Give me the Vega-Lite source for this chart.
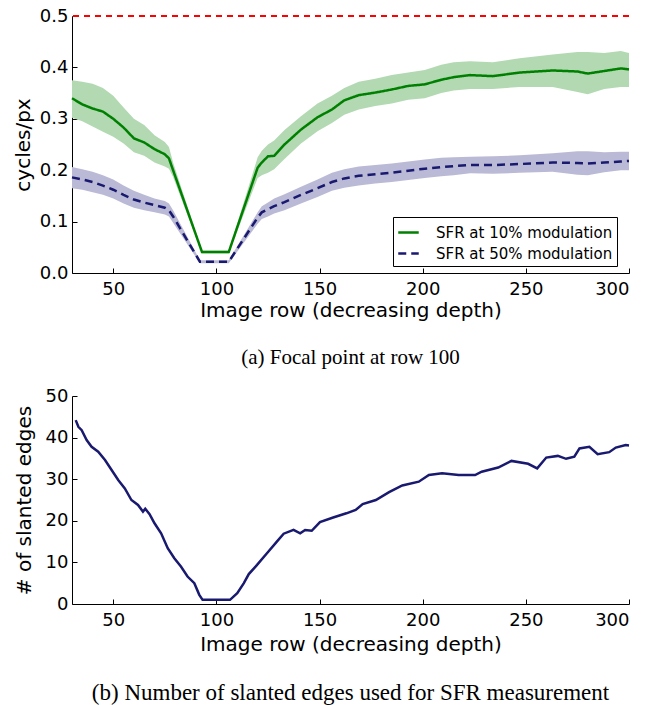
{
  "$schema": "https://vega.github.io/schema/vega-lite/v6.json",
  "background": "white",
  "padding": {"left": 13, "top": 7, "right": 10, "bottom": 0},
  "spacing": 19,
  "datasets": {
    "sfr": [
      {"row":30,"series":"SFR at 10% modulation","v":0.340,"lo":0.302,"hi":0.375},
      {"row":35,"series":"SFR at 10% modulation","v":0.328,"lo":0.295,"hi":0.372},
      {"row":40,"series":"SFR at 10% modulation","v":0.320,"lo":0.285,"hi":0.368},
      {"row":45,"series":"SFR at 10% modulation","v":0.314,"lo":0.275,"hi":0.360},
      {"row":50,"series":"SFR at 10% modulation","v":0.300,"lo":0.265,"hi":0.345},
      {"row":55,"series":"SFR at 10% modulation","v":0.283,"lo":0.252,"hi":0.322},
      {"row":60,"series":"SFR at 10% modulation","v":0.262,"lo":0.235,"hi":0.300},
      {"row":65,"series":"SFR at 10% modulation","v":0.254,"lo":0.228,"hi":0.288},
      {"row":70,"series":"SFR at 10% modulation","v":0.241,"lo":0.215,"hi":0.268},
      {"row":75,"series":"SFR at 10% modulation","v":0.231,"lo":0.207,"hi":0.255},
      {"row":77,"series":"SFR at 10% modulation","v":0.223,"lo":0.203,"hi":0.245},
      {"row":79,"series":"SFR at 10% modulation","v":0.200,"lo":0.187,"hi":0.215},
      {"row":93,"series":"SFR at 10% modulation","v":0.041,"lo":0.038,"hi":0.044},
      {"row":106,"series":"SFR at 10% modulation","v":0.041,"lo":0.038,"hi":0.044},
      {"row":120,"series":"SFR at 10% modulation","v":0.205,"lo":0.185,"hi":0.225},
      {"row":122,"series":"SFR at 10% modulation","v":0.215,"lo":0.190,"hi":0.238},
      {"row":125,"series":"SFR at 10% modulation","v":0.227,"lo":0.195,"hi":0.250},
      {"row":128,"series":"SFR at 10% modulation","v":0.228,"lo":0.202,"hi":0.258},
      {"row":133,"series":"SFR at 10% modulation","v":0.250,"lo":0.222,"hi":0.278},
      {"row":141,"series":"SFR at 10% modulation","v":0.279,"lo":0.252,"hi":0.305},
      {"row":149,"series":"SFR at 10% modulation","v":0.303,"lo":0.276,"hi":0.330},
      {"row":156,"series":"SFR at 10% modulation","v":0.318,"lo":0.292,"hi":0.345},
      {"row":162,"series":"SFR at 10% modulation","v":0.336,"lo":0.308,"hi":0.360},
      {"row":169,"series":"SFR at 10% modulation","v":0.346,"lo":0.318,"hi":0.372},
      {"row":177,"series":"SFR at 10% modulation","v":0.351,"lo":0.325,"hi":0.378},
      {"row":185,"series":"SFR at 10% modulation","v":0.357,"lo":0.330,"hi":0.385},
      {"row":193,"series":"SFR at 10% modulation","v":0.364,"lo":0.337,"hi":0.390},
      {"row":201,"series":"SFR at 10% modulation","v":0.367,"lo":0.340,"hi":0.395},
      {"row":209,"series":"SFR at 10% modulation","v":0.376,"lo":0.350,"hi":0.405},
      {"row":215,"series":"SFR at 10% modulation","v":0.381,"lo":0.355,"hi":0.410},
      {"row":223,"series":"SFR at 10% modulation","v":0.385,"lo":0.358,"hi":0.412},
      {"row":234,"series":"SFR at 10% modulation","v":0.383,"lo":0.358,"hi":0.410},
      {"row":247,"series":"SFR at 10% modulation","v":0.390,"lo":0.362,"hi":0.418},
      {"row":263,"series":"SFR at 10% modulation","v":0.394,"lo":0.362,"hi":0.425},
      {"row":275,"series":"SFR at 10% modulation","v":0.392,"lo":0.352,"hi":0.430},
      {"row":280,"series":"SFR at 10% modulation","v":0.388,"lo":0.348,"hi":0.430},
      {"row":288,"series":"SFR at 10% modulation","v":0.393,"lo":0.358,"hi":0.428},
      {"row":296,"series":"SFR at 10% modulation","v":0.398,"lo":0.362,"hi":0.432},
      {"row":300,"series":"SFR at 10% modulation","v":0.396,"lo":0.362,"hi":0.428},
      {"row":30,"series":"SFR at 50% modulation","v":0.186,"lo":0.165,"hi":0.206},
      {"row":35,"series":"SFR at 50% modulation","v":0.182,"lo":0.162,"hi":0.202},
      {"row":40,"series":"SFR at 50% modulation","v":0.177,"lo":0.157,"hi":0.197},
      {"row":45,"series":"SFR at 50% modulation","v":0.170,"lo":0.152,"hi":0.190},
      {"row":50,"series":"SFR at 50% modulation","v":0.162,"lo":0.145,"hi":0.182},
      {"row":55,"series":"SFR at 50% modulation","v":0.152,"lo":0.135,"hi":0.170},
      {"row":60,"series":"SFR at 50% modulation","v":0.143,"lo":0.127,"hi":0.160},
      {"row":65,"series":"SFR at 50% modulation","v":0.137,"lo":0.122,"hi":0.152},
      {"row":70,"series":"SFR at 50% modulation","v":0.132,"lo":0.118,"hi":0.145},
      {"row":75,"series":"SFR at 50% modulation","v":0.127,"lo":0.114,"hi":0.140},
      {"row":77,"series":"SFR at 50% modulation","v":0.122,"lo":0.110,"hi":0.135},
      {"row":79,"series":"SFR at 50% modulation","v":0.110,"lo":0.098,"hi":0.122},
      {"row":92,"series":"SFR at 50% modulation","v":0.022,"lo":0.019,"hi":0.025},
      {"row":106,"series":"SFR at 50% modulation","v":0.022,"lo":0.019,"hi":0.025},
      {"row":120,"series":"SFR at 50% modulation","v":0.108,"lo":0.096,"hi":0.118},
      {"row":122,"series":"SFR at 50% modulation","v":0.118,"lo":0.105,"hi":0.130},
      {"row":125,"series":"SFR at 50% modulation","v":0.124,"lo":0.110,"hi":0.137},
      {"row":128,"series":"SFR at 50% modulation","v":0.130,"lo":0.116,"hi":0.145},
      {"row":133,"series":"SFR at 50% modulation","v":0.138,"lo":0.122,"hi":0.153},
      {"row":141,"series":"SFR at 50% modulation","v":0.152,"lo":0.135,"hi":0.168},
      {"row":149,"series":"SFR at 50% modulation","v":0.165,"lo":0.148,"hi":0.182},
      {"row":156,"series":"SFR at 50% modulation","v":0.177,"lo":0.160,"hi":0.195},
      {"row":162,"series":"SFR at 50% modulation","v":0.184,"lo":0.166,"hi":0.202},
      {"row":169,"series":"SFR at 50% modulation","v":0.189,"lo":0.170,"hi":0.207},
      {"row":177,"series":"SFR at 50% modulation","v":0.192,"lo":0.174,"hi":0.210},
      {"row":185,"series":"SFR at 50% modulation","v":0.195,"lo":0.177,"hi":0.213},
      {"row":193,"series":"SFR at 50% modulation","v":0.199,"lo":0.181,"hi":0.217},
      {"row":201,"series":"SFR at 50% modulation","v":0.203,"lo":0.185,"hi":0.221},
      {"row":209,"series":"SFR at 50% modulation","v":0.206,"lo":0.188,"hi":0.224},
      {"row":215,"series":"SFR at 50% modulation","v":0.208,"lo":0.190,"hi":0.225},
      {"row":223,"series":"SFR at 50% modulation","v":0.210,"lo":0.194,"hi":0.226},
      {"row":234,"series":"SFR at 50% modulation","v":0.210,"lo":0.193,"hi":0.227},
      {"row":247,"series":"SFR at 50% modulation","v":0.212,"lo":0.195,"hi":0.229},
      {"row":263,"series":"SFR at 50% modulation","v":0.215,"lo":0.197,"hi":0.233},
      {"row":275,"series":"SFR at 50% modulation","v":0.214,"lo":0.191,"hi":0.237},
      {"row":280,"series":"SFR at 50% modulation","v":0.213,"lo":0.190,"hi":0.237},
      {"row":288,"series":"SFR at 50% modulation","v":0.215,"lo":0.196,"hi":0.235},
      {"row":296,"series":"SFR at 50% modulation","v":0.217,"lo":0.200,"hi":0.236},
      {"row":300,"series":"SFR at 50% modulation","v":0.218,"lo":0.200,"hi":0.236}
    ],
    "edges": [
      {"row":31.8,"n":44.2},{"row":33.1,"n":42.6},{"row":34.7,"n":41.8},{"row":37.1,"n":39.4},
      {"row":39.5,"n":37.8},{"row":42.7,"n":36.6},{"row":46,"n":34.6},{"row":49.2,"n":32.2},
      {"row":52.4,"n":29.8},{"row":55.6,"n":27.8},{"row":58.8,"n":25.0},{"row":62,"n":23.8},
      {"row":64.4,"n":22.2},{"row":65.5,"n":22.9},{"row":67.6,"n":21.6},{"row":70,"n":19.4},
      {"row":73.2,"n":17.0},{"row":76.4,"n":13.4},{"row":79.6,"n":11.0},{"row":82.8,"n":9.0},
      {"row":86,"n":6.6},{"row":89.3,"n":5.0},{"row":91.7,"n":2.2},{"row":93.3,"n":1},
      {"row":106.6,"n":1},{"row":110.1,"n":2.6},{"row":113.3,"n":5.0},{"row":115.7,"n":7.2},
      {"row":119.7,"n":9.4},{"row":124.5,"n":12.2},{"row":129.3,"n":15.0},{"row":132.6,"n":16.9},
      {"row":137.4,"n":17.8},{"row":140.6,"n":17.0},{"row":143,"n":17.8},{"row":146.2,"n":17.6},
      {"row":150.2,"n":19.7},{"row":156.6,"n":20.8},{"row":163,"n":21.8},{"row":167.5,"n":22.6},
      {"row":170.9,"n":24.0},{"row":177.3,"n":25.0},{"row":183.7,"n":26.9},{"row":190.1,"n":28.5},
      {"row":198.1,"n":29.4},{"row":203,"n":31.0},{"row":209.4,"n":31.4},{"row":217.4,"n":31.0},
      {"row":225.4,"n":31.0},{"row":228.6,"n":31.8},{"row":236.6,"n":32.8},{"row":243,"n":34.4},
      {"row":251.1,"n":33.7},{"row":255.5,"n":32.6},{"row":259.9,"n":35.2},{"row":265.5,"n":35.6},
      {"row":269.5,"n":34.9},{"row":273.5,"n":35.4},{"row":276,"n":37.4},{"row":280.8,"n":37.8},
      {"row":284.8,"n":36.0},{"row":290.4,"n":36.5},{"row":293.6,"n":37.6},{"row":298.4,"n":38.2},
      {"row":300,"n":38.1}
    ],
    "limit": [{"nyquist": 0.5}]
  },
  "vconcat": [
    {
      "width": 557,
      "height": 257,
      "title": {"text": "(a) Focal point at row 100", "orient": "bottom", "offset": 27, "fontSize": 21},
      "layer": [
        {
          "data": {"name": "sfr"},
          "transform": [{"filter": "datum.series === 'SFR at 10% modulation'"}],
          "mark": {"type": "area", "color": "#b2d9b2", "opacity": 1},
          "encoding": {
            "x": {"field": "row", "type": "quantitative", "scale": {"domain": [30, 300], "nice": false},
                  "axis": {"values": [50, 100, 150, 200, 250, 300], "title": "Image row (decreasing depth)"}},
            "y": {"field": "lo", "type": "quantitative", "scale": {"domain": [0, 0.5], "nice": false},
                  "axis": {"values": [0, 0.1, 0.2, 0.3, 0.4, 0.5], "format": ".1f", "title": "cycles/px"}},
            "y2": {"field": "hi"}
          }
        },
        {
          "data": {"name": "sfr"},
          "transform": [{"filter": "datum.series === 'SFR at 50% modulation'"}],
          "mark": {"type": "area", "color": "#babad6", "opacity": 1},
          "encoding": {
            "x": {"field": "row", "type": "quantitative"},
            "y": {"field": "lo", "type": "quantitative"},
            "y2": {"field": "hi"}
          }
        },
        {
          "data": {"name": "sfr"},
          "mark": {"type": "line", "strokeWidth": 2.5},
          "encoding": {
            "x": {"field": "row", "type": "quantitative"},
            "y": {"field": "v", "type": "quantitative"},
            "color": {"field": "series", "type": "nominal",
                      "scale": {"domain": ["SFR at 10% modulation", "SFR at 50% modulation"], "range": ["#008000", "#191970"]},
                      "legend": {"title": null, "orient": "none", "legendX": 321, "legendY": 201}},
            "strokeDash": {"field": "series", "type": "nominal",
                      "scale": {"domain": ["SFR at 10% modulation", "SFR at 50% modulation"], "range": [[1, 0], [8, 5]]},
                      "legend": {"title": null, "orient": "none", "legendX": 321, "legendY": 201}}
          }
        },
        {
          "data": {"name": "limit"},
          "mark": {"type": "rule", "color": "#ff0000", "strokeWidth": 2, "strokeDash": [6, 5]},
          "encoding": {"y": {"field": "nyquist", "type": "quantitative"}}
        }
      ]
    },
    {
      "width": 557,
      "height": 208,
      "title": {"text": "(b) Number of slanted edges used for SFR measurement", "orient": "bottom", "offset": 28, "fontSize": 23},
      "data": {"name": "edges"},
      "mark": {"type": "line", "color": "#191970", "strokeWidth": 2.5},
      "encoding": {
        "x": {"field": "row", "type": "quantitative", "scale": {"domain": [30, 300], "nice": false},
              "axis": {"values": [50, 100, 150, 200, 250, 300], "title": "Image row (decreasing depth)", "titlePadding": 5}},
        "y": {"field": "n", "type": "quantitative", "scale": {"domain": [0, 50], "nice": false},
              "axis": {"values": [0, 10, 20, 30, 40, 50], "title": "# of slanted edges", "titlePadding": 11}}
      }
    }
  ],
  "config": {
    "view": {"stroke": null},
    "axis": {
      "grid": false,
      "domainColor": "#000000", "domainWidth": 1,
      "tickColor": "#000000", "tickWidth": 1, "tickSize": -5,
      "labelColor": "#000000", "titleColor": "#000000",
      "labelFont": "DejaVu Sans", "titleFont": "DejaVu Sans",
      "labelFontSize": 18, "titleFontSize": 20, "titleFontWeight": "normal"
    },
    "axisX": {"labelPadding": 12, "titlePadding": 2},
    "axisY": {"labelPadding": 9, "titlePadding": 6},
    "legend": {
      "symbolType": "stroke", "symbolSize": 420, "symbolStrokeWidth": 2.5,
      "labelFont": "DejaVu Sans", "labelFontSize": 15, "labelColor": "#000000", "labelLimit": 0,
      "strokeColor": "#000000", "fillColor": "#ffffff", "padding": 4, "cornerRadius": 0,
      "rowPadding": 1, "labelOffset": 16
    },
    "title": {"font": "Liberation Serif", "fontSize": 19, "fontWeight": "normal", "color": "#000000", "anchor": "middle"}
  }
}
